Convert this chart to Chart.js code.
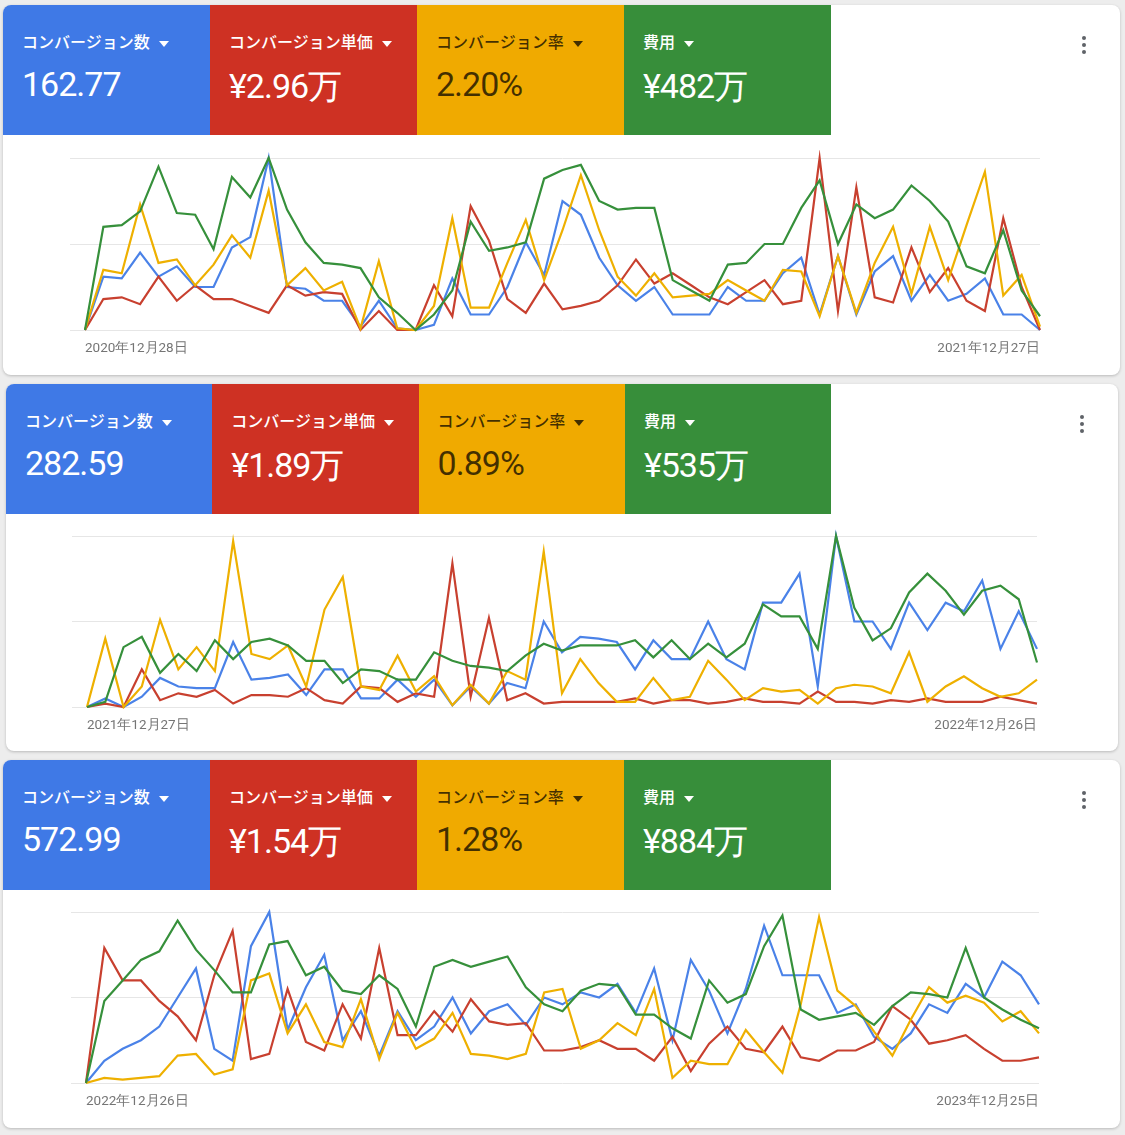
<!DOCTYPE html>
<html lang="ja">
<head>
<meta charset="utf-8">
<script src="https://cdn.jsdelivr.net/npm/chart.js@4.4.1/dist/chart.umd.min.js"></script>
<style>
  body {
    margin: 0;
    width: 1125px;
    height: 1135px;
    background: #ededed;
    position: relative;
    overflow: hidden;
    font-family: Roboto, "Noto Sans CJK JP", sans-serif;
  }
  .card {
    position: absolute;
    background: #fff;
    border-radius: 8px;
    box-shadow: 0 1px 3px rgba(0, 0, 0, 0.22);
    overflow: hidden;
  }
  .tile {
    position: absolute;
    top: 0;
    height: 130px;
    color: #fff;
  }
  .tile .label {
    position: absolute;
    left: 19px;
    top: 26px;
    font-family: "Noto Sans CJK JP", sans-serif;
    font-size: 16px;
    font-weight: 500;
    line-height: 20px;
    white-space: nowrap;
  }
  .tile .arrow {
    display: inline-block;
    width: 0;
    height: 0;
    border-left: 5px solid transparent;
    border-right: 5px solid transparent;
    border-top: 6px solid currentColor;
    margin-left: 9px;
    vertical-align: middle;
  }
  .tile .value {
    position: absolute;
    left: 19px;
    top: 59px;
    font-family: Roboto, sans-serif;
    font-size: 34px;
    letter-spacing: -1px;
    white-space: nowrap;
  }
  .tile.light { color: rgba(0, 0, 0, 0.72); }
  .menu {
    position: absolute;
    width: 4px;
  }
  .menu span {
    display: block;
    width: 4px;
    height: 4px;
    border-radius: 50%;
    background: #5f6368;
    margin-bottom: 3px;
  }
  .chart-box { position: absolute; }
</style>
</head>
<body>
<script>
  // タイルの見出し
  const tileLabels = ["コンバージョン数", "コンバージョン単価", "コンバージョン率", "費用"];

  // 2021 年
  const tiles2021 = ["162.77", "¥2.96万", "2.20%", "¥482万"];
  const range2021 = ["2020年12月28日", "2021年12月27日"];
  const conv2021 = [0,31,30,45,31,37,25,25,48,54,100,25,24,17,17,2,17,1,0,3,30,9,9,25,51,32,75,67,42,26,17,25,9,9,9,25,17,17,33,42,9,43,9,34,43,17,32,17,21,30,9,9,0];
  const cpa2021 = [0,18,19,15,31,17,26,18,18,14,10,26,20,22,21,0,11,0,0,26,8,72,52,18,10,27,12,14,17,26,41,27,33,26,19,15,22,29,15,17,100,11,83,19,16,48,22,36,17,11,65,25,0];
  const rate2021 = [0,35,33,73,39,41,26,38,55,42,81,26,36,23,28,1,40,1,0,14,65,13,13,39,64,29,58,90,58,31,20,33,19,20,21,29,23,17,35,34,8,43,10,39,60,21,60,29,61,92,20,32,2];
  const cost2021 = [0,60,61,69,95,68,67,47,89,77,100,70,51,39,38,36,19,10,0,9,23,63,46,48,51,88,93,96,75,70,71,71,29,23,17,38,39,50,50,71,87,50,73,65,70,84,75,63,37,33,58,23,8];

  // 2022 年
  const tiles2022 = ["282.59", "¥1.89万", "0.89%", "¥535万"];
  const range2022 = ["2021年12月27日", "2022年12月26日"];
  const conv2022 = [0,5,0,6,17,12,11,11,38,16,17,19,7,22,22,5,5,16,6,16,1,12,2,14,11,50,32,41,40,38,22,39,28,28,50,28,22,61,61,78,12,100,50,50,34,61,45,61,56,74,34,56,34];
  const cpa2022 = [0,2,0,22,4,8,6,10,2,7,7,6,11,4,2,12,11,3,8,6,84,6,52,4,8,2,3,3,3,3,5,2,4,4,2,3,5,3,3,2,9,3,3,2,4,3,5,3,3,3,6,4,2];
  const rate2022 = [0,40,0,12,51,22,35,21,97,31,28,36,12,57,76,12,10,30,9,18,1,13,2,21,16,91,8,28,14,3,3,17,4,6,27,16,4,11,9,10,2,11,13,12,8,32,3,12,18,11,6,8,16];
  const cost2022 = [0,3,35,41,20,31,21,39,28,38,40,36,27,27,14,22,21,16,16,32,27,24,23,21,30,37,33,36,36,36,39,29,39,28,37,29,37,60,53,53,34,100,58,39,46,67,78,68,54,68,71,63,26];

  // 2023 年
  const tiles2023 = ["572.99", "¥1.54万", "1.28%", "¥884万"];
  const range2023 = ["2022年12月26日", "2023年12月25日"];
  const conv2023 = [0,13,20,25,33,50,67,20,13,80,100,31,56,75,25,42,16,42,25,33,50,29,42,46,34,50,46,53,50,58,41,67,25,72,54,29,55,92,63,63,63,41,46,27,20,29,46,41,58,50,71,63,46];
  const cpa2023 = [0,79,60,60,48,39,25,63,89,14,17,55,24,19,46,26,79,28,28,42,30,49,36,34,35,19,19,21,25,20,20,13,27,7,23,33,20,18,33,15,13,19,19,24,45,37,23,25,28,20,13,13,15];
  const rate2023 = [0,3,2,3,4,16,17,5,8,60,64,29,46,24,21,49,14,41,20,26,41,17,16,14,17,53,55,20,25,35,28,55,3,13,11,11,31,18,6,46,97,54,45,30,16,37,56,47,51,47,36,42,29];
  const cost2023 = [0,48,60,72,77,95,78,66,53,53,81,83,63,68,54,52,63,55,33,68,72,68,71,74,56,46,42,54,58,57,40,40,32,26,60,47,52,80,98,43,37,39,41,34,45,53,52,50,79,50,43,37,32];

  // 配色
  const tileColors = ["#3f79e6", "#ce3123", "#f0aa00", "#378e3a"];
  const lineColors = ["#4a82e8", "#c8402f", "#eeb000", "#36903b"];

  // カードの位置（ページ座標）とプロット領域（カード内座標）
  const panels = [
    { tiles: tiles2021, range: range2021, series: [conv2021, cpa2021, rate2021, cost2021],
      box: [3, 5, 1117, 370], tileW: 207, plot: [82, 1037, 153, 325] },
    { tiles: tiles2022, range: range2022, series: [conv2022, cpa2022, rate2022, cost2022],
      box: [6, 384, 1112, 367], tileW: 206.3, plot: [81, 1031, 152, 323] },
    { tiles: tiles2023, range: range2023, series: [conv2023, cpa2023, rate2023, cost2023],
      box: [3, 760, 1117, 368], tileW: 207, plot: [83, 1036, 152, 323] }
  ];

  const TICK_LEN = 15;
  const PAD_TOP = 8;
  const LABEL_PAD = 11;
  const LABEL_H = 16.2;

  panels.forEach(function (p) {
    const card = document.createElement("div");
    card.className = "card";
    card.style.left = p.box[0] + "px";
    card.style.top = p.box[1] + "px";
    card.style.width = p.box[2] + "px";
    card.style.height = p.box[3] + "px";
    document.body.appendChild(card);

    // 指標タイル
    tileLabels.forEach(function (label, i) {
      const tile = document.createElement("div");
      tile.className = "tile" + (i === 2 ? " light" : "");
      tile.style.left = (i * p.tileW) + "px";
      tile.style.width = p.tileW + "px";
      tile.style.background = tileColors[i];
      tile.innerHTML =
        '<div class="label">' + label + '<span class="arrow"></span></div>' +
        '<div class="value">' + p.tiles[i] + "</div>";
      card.appendChild(tile);
    });

    // メニューアイコン
    const menu = document.createElement("div");
    menu.className = "menu";
    menu.style.left = (p.box[2] - 38) + "px";
    menu.style.top = "31px";
    menu.innerHTML = "<span></span><span></span><span></span>";
    card.appendChild(menu);

    // グラフ
    const left = p.plot[0] - TICK_LEN;
    const top = p.plot[2] - PAD_TOP;
    const boxW = p.plot[1] - left + LABEL_PAD;
    const boxH = p.plot[3] - p.plot[2] + PAD_TOP + LABEL_PAD + LABEL_H;
    const box = document.createElement("div");
    box.className = "chart-box";
    box.style.left = left + "px";
    box.style.top = top + "px";
    box.style.width = boxW + "px";
    box.style.height = boxH + "px";
    const canvas = document.createElement("canvas");
    box.appendChild(canvas);
    card.appendChild(box);

    const n = p.series[0].length;
    const labels = p.series[0].map(function (_, i) { return i; });

    const chart = new Chart(canvas, {
      type: "line",
      data: {
        labels: labels,
        datasets: p.series.map(function (values, i) {
          return {
            data: values,
            borderColor: lineColors[i],
            borderWidth: 2.2,
            pointRadius: 0,
            tension: 0,
            clip: false,
            order: 3 - i
          };
        })
      },
      options: {
        responsive: true,
        maintainAspectRatio: false,
        animation: false,
        events: [],
        layout: { padding: { top: PAD_TOP, right: 0, left: 0, bottom: 0 } },
        plugins: { legend: { display: false }, tooltip: { enabled: false } },
        scales: {
          x: {
            grid: { display: false, drawTicks: false },
            border: { display: false },
            ticks: {
              autoSkip: false,
              maxRotation: 0,
              minRotation: 0,
              align: "inner",
              padding: LABEL_PAD,
              color: "#757575",
              font: { family: "Roboto", size: 13.5 },
              callback: function (val, i) {
                if (i === 0) return p.range[0];
                if (i === n - 1) return p.range[1];
                return "";
              }
            }
          },
          y: {
            min: 0,
            max: 100,
            grid: { color: "#e6e6e6", tickColor: "#e6e6e6", tickLength: TICK_LEN, drawTicks: true },
            border: { display: false },
            ticks: { display: false, stepSize: 50 }
          }
        }
      }
    });

    // プロット領域が目標位置に来るよう箱の大きさを補正
    const area = chart.chartArea;
    if (area) {
      const dh = (p.plot[3] - top) - area.bottom;
      const dw = (p.plot[1] - left) - area.right;
      box.style.height = (boxH + dh) + "px";
      box.style.width = (boxW + dw) + "px";
      chart.resize();
    }
  });
</script>
</body>
</html>
